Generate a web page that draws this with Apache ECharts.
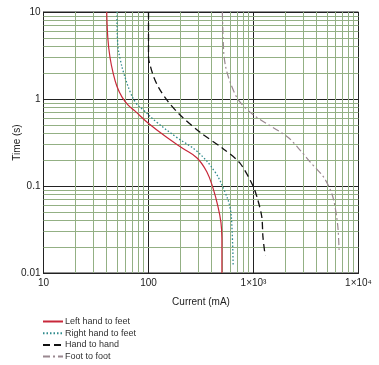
<!DOCTYPE html>
<html>
<head>
<meta charset="utf-8">
<script src="https://cdn.jsdelivr.net/npm/echarts@6/dist/echarts.min.js"></script>
<style>html,body{margin:0;padding:0;background:#fff}#c{width:379px;height:365px}</style>
</head>
<body>
<div id="c"></div>
<script>
// Data (current in mA, time in s)
var seriesNames = ['Left hand to feet', 'Right hand to feet', 'Hand to hand', 'Foot to foot'];
var leftI  = [40, 41, 43, 46, 50, 56, 64, 75, 99, 150, 213, 290, 360, 411, 459, 490, 500, 500];
var leftT  = [10, 5, 3.0, 2.0, 1.4, 1.05, 0.85, 0.72, 0.53, 0.36, 0.27, 0.21, 0.145, 0.095, 0.058, 0.038, 0.025, 0.01];
var rightI = [50, 51, 54, 58, 67, 76, 89, 120, 187, 290, 430, 535, 597, 623, 640];
var rightT = [10, 4.2, 2.8, 2.0, 1.2, 0.9, 0.75, 0.54, 0.36, 0.25, 0.145, 0.085, 0.057, 0.034, 0.012];
var handI  = [100, 100, 104, 112, 125, 150, 200, 308, 510, 740, 990, 1100, 1200, 1230, 1290];
var handT  = [10, 3.0, 2.4, 1.8, 1.35, 0.97, 0.655, 0.417, 0.27, 0.184, 0.1, 0.069, 0.044, 0.026, 0.016];
var footI  = [505, 520, 545, 603, 720, 1000, 2110, 2850, 3450, 4640, 5400, 5800, 6200, 6400, 6550];
var footT  = [10, 3.5, 2.3, 1.53, 0.97, 0.655, 0.366, 0.25, 0.19, 0.127, 0.09, 0.069, 0.044, 0.031, 0.017];
var xTickLabels = {10: '10', 100: '100', 1000: '1\u00d710\u00b3', 10000: '1\u00d710\u2074'};
var yTickLabels = ['0.01', '0.1', '1', '10'];
var xDecades = [10, 100, 1000];
var yDecades = [0.01, 0.1, 1];
var minorMultipliers = [2, 3, 4, 5, 6, 7, 8, 9];

function pairs(a, b) { return a.map(function (v, i) { return [v, b[i]]; }); }
var minorLines = [];
xDecades.forEach(function (d) { minorMultipliers.forEach(function (m) { minorLines.push({xAxis: +(d * m).toPrecision(6)}); }); });
yDecades.forEach(function (d) { minorMultipliers.forEach(function (m) { minorLines.push({yAxis: +(d * m).toPrecision(6)}); }); });

var font = 'Liberation Sans, Arial, sans-serif';
var chart = echarts.init(document.getElementById('c'), null, {renderer: 'canvas'});
function lineSeries(i, xs, ts, color, type, width, smooth) {
  return {name: seriesNames[i], type: 'line', data: pairs(xs, ts), showSymbol: false, symbol: 'none', smooth: smooth, z: 5,
    lineStyle: {color: color, width: width, type: type}, itemStyle: {color: color}};
}
chart.setOption({
  animation: false,
  backgroundColor: '#fff',
  textStyle: {fontFamily: font},
  grid: {left: 43.5, right: 20.5, top: 12, bottom: 92, show: true, borderColor: '#222', borderWidth: 1,
    containLabel: false, outerBoundsMode: 'none'},
  xAxis: {
    type: 'log', logBase: 10, min: 10, max: 10000,
    name: 'Current (mA)', nameLocation: 'middle', nameGap: 24, nameMoveOverlap: false,
    nameTextStyle: {fontSize: 10, color: '#222', fontFamily: font},
    axisLine: {show: true, lineStyle: {color: '#222', width: 1}},
    axisTick: {show: false},
    axisLabel: {fontSize: 10, color: '#222', margin: 5, fontFamily: font, formatter: function (v) { return xTickLabels[Math.round(v)] || ''; }},
    splitLine: {show: true, lineStyle: {color: '#222', width: 1}}
  },
  yAxis: {
    type: 'log', logBase: 10, min: 0.01, max: 10,
    name: 'Time (s)', nameLocation: 'middle', nameGap: 21, nameMoveOverlap: false,
    nameTextStyle: {fontSize: 10, color: '#222', fontFamily: font},
    axisLine: {show: true, lineStyle: {color: '#222', width: 1}},
    axisTick: {show: false},
    axisLabel: {fontSize: 10, color: '#222', margin: 3, fontFamily: font, formatter: function (v) {
      var k = Math.round(Math.log10(v)) + 2;
      return yTickLabels[k] || '';
    }},
    splitLine: {show: true, lineStyle: {color: '#222', width: 1}}
  },
  legend: {
    data: seriesNames.map(function (n) { return {name: n, itemStyle: {opacity: 0}}; }),
    orient: 'vertical', left: 42, top: 317, padding: 0,
    itemWidth: 20, itemHeight: 8, itemGap: 2.7,
    textStyle: {fontSize: 9, lineHeight: 9, color: '#333', fontFamily: font, padding: [0, 0, 0, -3]}
  },
  series: [
    {
      name: 'grid', type: 'line', data: [], silent: true, z: 1,
      markLine: {silent: true, symbol: ['none', 'none'], label: {show: false}, animation: false,
        lineStyle: {color: '#93b084', width: 1, type: 'solid', opacity: 1}, emphasis: {disabled: true}, data: minorLines}
    },
    lineSeries(0, leftI, leftT, '#c8283a', 'solid', 1.2, 0.4),
    lineSeries(1, rightI, rightT, '#2f8a8c', [1.5, 2], 1.3, 0.4),
    lineSeries(2, handI, handT, '#111', [7, 4], 1.3, 0.3),
    lineSeries(3, footI, footT, '#9a8890', [7, 3, 2, 3], 1.2, 0.3)
  ]
});
</script>
</body>
</html>
